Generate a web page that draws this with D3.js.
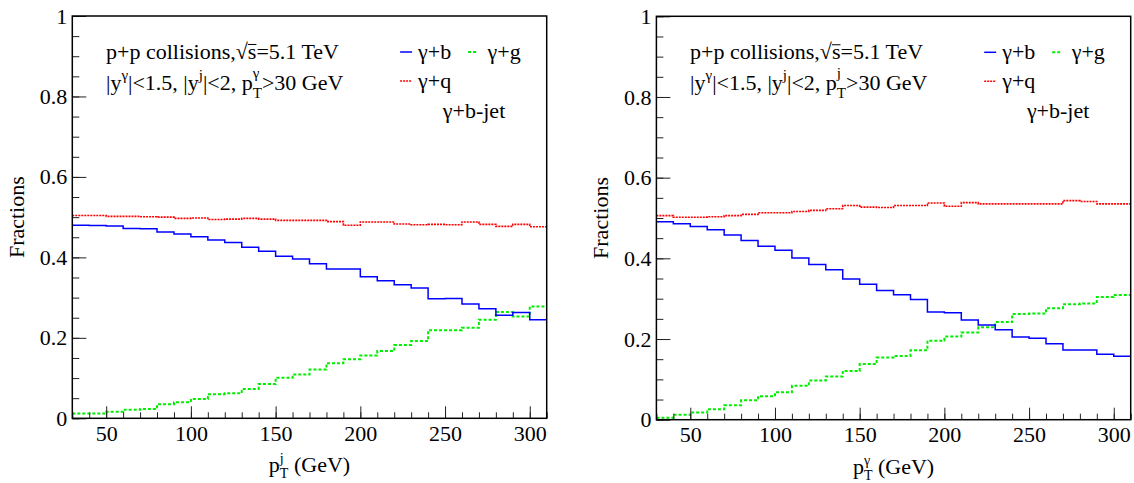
<!DOCTYPE html>
<html>
<head>
<meta charset="utf-8">
<script src="https://cdn.jsdelivr.net/npm/d3@7"></script>
<style>
  body { margin: 0; background: #fff; }
  text { font-family: "Liberation Serif", "Times New Roman", serif; fill: #000; }
</style>
</head>
<body>
<svg id="chart"></svg>
<script>
// bin edges (GeV), 10 GeV bins from 30 to 310
var binEdges = [30, 40, 50, 60, 70, 80, 90, 100, 110, 120, 130, 140, 150, 160, 170,
    180, 190, 200, 210, 220, 230, 240, 250, 260, 270, 280, 290, 300, 310]

// left panel: vs p_T of the jet
var jetB = [0.480, 0.479, 0.478, 0.472, 0.471, 0.463, 0.458, 0.451, 0.443, 0.437, 0.425, 0.415, 0.403, 0.396,
    0.384, 0.371, 0.371, 0.352, 0.342, 0.332, 0.324, 0.297, 0.298, 0.284, 0.272, 0.256, 0.263, 0.245]
var jetG = [0.012, 0.012, 0.016, 0.021, 0.023, 0.035, 0.040, 0.048, 0.060, 0.062, 0.073, 0.085, 0.101, 0.109,
    0.121, 0.137, 0.147, 0.156, 0.167, 0.182, 0.192, 0.219, 0.219, 0.225, 0.245, 0.264, 0.253, 0.278]
var jetQ = [0.504, 0.504, 0.502, 0.502, 0.501, 0.500, 0.497, 0.498, 0.494, 0.495, 0.497, 0.495, 0.492, 0.492,
    0.492, 0.489, 0.480, 0.488, 0.488, 0.483, 0.481, 0.482, 0.481, 0.488, 0.482, 0.477, 0.482, 0.476]

// right panel: vs p_T of the photon
var gamB = [0.491, 0.486, 0.479, 0.471, 0.458, 0.444, 0.430, 0.420, 0.401, 0.385, 0.372, 0.349, 0.336, 0.320,
    0.310, 0.298, 0.267, 0.265, 0.247, 0.235, 0.223, 0.205, 0.202, 0.188, 0.173, 0.173, 0.162, 0.157]
var gamG = [0.005, 0.012, 0.018, 0.026, 0.036, 0.048, 0.058, 0.068, 0.084, 0.097, 0.107, 0.121, 0.138, 0.154,
    0.158, 0.172, 0.196, 0.206, 0.216, 0.229, 0.242, 0.262, 0.263, 0.276, 0.286, 0.288, 0.304, 0.309]
var gamQ = [0.506, 0.502, 0.502, 0.503, 0.506, 0.509, 0.513, 0.513, 0.516, 0.519, 0.523, 0.531, 0.527, 0.526,
    0.531, 0.531, 0.537, 0.529, 0.538, 0.535, 0.535, 0.535, 0.535, 0.535, 0.543, 0.541, 0.535, 0.535]

var xMajor = [50, 100, 150, 200, 250, 300]
var yMajor = [0, 0.2, 0.4, 0.6, 0.8, 1]
var seriesNames = ['γ+b', 'γ+g', 'γ+q']

var width = 1134, height = 483, fs = 22

var svg = d3.select('#chart').attr('width', width).attr('height', height)
svg.append('rect').attr('width', width).attr('height', height).style('fill', '#fff')

// lays out text pieces one after another (sub/superscripts, stacked indices)
function richText(g, x, y, parts) {
    var cx = x, prevX = x
    parts.forEach(function (p) {
        var px = p.stack ? prevX : cx
        var size = p.s || fs
        var t = g.append('text').attr('x', px).attr('y', y + (p.dy || 0))
            .style('font-size', size + 'px').text(p.t)
        var w = t.node().getComputedTextLength()
        if (p.over) {
            g.append('line').attr('x1', px).attr('x2', px + w)
                .attr('y1', y - size * 0.66).attr('y2', y - size * 0.66)
                .style('stroke', '#000').style('stroke-width', 1)
        }
        cx = p.stack ? Math.max(cx, px + w) : px + w
        prevX = px
    })
    return cx - x
}

function drawPanel(cfg) {
    var x = d3.scaleLinear().domain([30, 310]).range([cfg.x0, cfg.x1])
    var y = d3.scaleLinear().domain([0, 1]).range([cfg.y1, cfg.y0])

    // histograms
    var line = d3.line()
        .x(function (d) { return x(d[0]) })
        .y(function (d) { return y(d[1]) })
        .curve(d3.curveStepAfter)
    function steps(vals) {
        var pts = vals.map(function (v, i) { return [binEdges[i], v] })
        pts.push([binEdges[binEdges.length - 1], vals[vals.length - 1]])
        return pts
    }
    var styles = [
        { data: cfg.q, color: '#ff0000', w: 1.6, dash: '2,1' },
        { data: cfg.g, color: '#00ee00', w: 2, dash: '3,2' },
        { data: cfg.b, color: '#0000ff', w: 1.5, dash: null }
    ]
    styles.forEach(function (s) {
        svg.append('path').attr('d', line(steps(s.data)))
            .style('fill', 'none').style('stroke', s.color)
            .style('stroke-width', s.w).style('stroke-dasharray', s.dash)
    })

    // axes: ticks drawn inward, ROOT style
    var yMinor = d3.range(0, 1.0001, 0.05)
    var xMinor = binEdges
    svg.append('g').attr('transform', `translate(${cfg.x0},0)`)
        .call(d3.axisLeft(y).tickValues(yMinor).tickSize(-7).tickFormat(''))
        .call(function (g) { g.select('.domain').remove() })
    var ya = svg.append('g').attr('transform', `translate(${cfg.x0},0)`)
        .call(d3.axisLeft(y).tickValues(yMajor).tickSize(-14).tickPadding(5)
            .tickFormat(d3.format('~g')))
    ya.select('.domain').remove()
    ya.selectAll('text').style('font-size', fs + 'px')

    svg.append('g').attr('transform', `translate(0,${cfg.y1})`)
        .call(d3.axisBottom(x).tickValues(xMinor).tickSize(-6).tickFormat(''))
        .call(function (g) { g.select('.domain').remove() })
    var xa = svg.append('g').attr('transform', `translate(0,${cfg.y1})`)
        .call(d3.axisBottom(x).tickValues(xMajor).tickSize(-12).tickPadding(5))
    xa.select('.domain').remove()
    xa.selectAll('text').style('font-size', fs + 'px').attr('dy', '0.8em')
    svg.selectAll('.tick line').style('stroke', '#222')

    // frame
    svg.append('rect').attr('x', cfg.x0).attr('y', cfg.y0)
        .attr('width', cfg.x1 - cfg.x0).attr('height', cfg.y1 - cfg.y0)
        .style('fill', 'none').style('stroke', '#000').style('stroke-width', 1.5)

    // y title
    svg.append('text')
        .attr('transform', `translate(${cfg.x0 - 48},${(cfg.y0 + cfg.y1) / 2}) rotate(-90)`)
        .attr('text-anchor', 'middle').style('font-size', fs + 'px').text('Fractions')

    // x title, centred under the axis
    var xt = svg.append('g')
    var w = richText(xt, 0, 0, [
        { t: 'p' }, { t: 'T', s: 14, dy: 6 }, { t: cfg.ptIdx, s: 14, dy: -9, stack: true },
        { t: '\u00a0(GeV)' }
    ])
    xt.attr('transform', `translate(${(cfg.x0 + cfg.x1) / 2 - w / 2},${cfg.y1 + 54})`)

    // labels
    var tx = cfg.x0 + 33.7
    richText(svg, tx, cfg.y0 + 43, [
        { t: 'p+p collisions,' }, { t: '√' }, { t: 's', over: true }, { t: '=5.1 TeV' }
    ])
    richText(svg, tx, cfg.y0 + 74, [
        { t: '|y' }, { t: 'γ', s: 15, dy: -10 }, { t: '|<1.5, |y' }, { t: 'j', s: 15, dy: -10 },
        { t: '|<2, p' }, { t: 'T', s: 15, dy: 8 }, { t: cfg.cutIdx, s: 15, dy: -12, stack: true },
        { t: '>30 GeV' }
    ])

    // legend
    var lx = cfg.x0 + 327.8
    var legend = [
        { name: seriesNames[0], x: lx, tx: 18, row: 0, color: '#0000ff', w: 1.5, dash: null, len: 12 },
        { name: seriesNames[1], x: lx + 68, tx: 19.5, row: 0, color: '#00ee00', w: 2, dash: '3,2', len: 10 },
        { name: seriesNames[2], x: lx, tx: 18, row: 1, color: '#ff0000', w: 1.6, dash: '2,1', len: 12 }
    ]
    legend.forEach(function (d) {
        var by = cfg.y0 + 43 + d.row * 29
        svg.append('line').attr('x1', d.x).attr('x2', d.x + d.len)
            .attr('y1', by - 7).attr('y2', by - 7)
            .style('stroke', d.color).style('stroke-width', d.w).style('stroke-dasharray', d.dash)
        svg.append('text').attr('x', d.x + d.tx).attr('y', by)
            .style('font-size', fs + 'px').text(d.name)
    })
    svg.append('text').attr('x', cfg.x0 + 370.5).attr('y', cfg.y0 + 102)
        .style('font-size', fs + 'px').text('γ+b-jet')
}

drawPanel({ x0: 72.3, x1: 546.7, y0: 16, y1: 418.3, b: jetB, g: jetG, q: jetQ, ptIdx: 'j', cutIdx: 'γ' })
drawPanel({ x0: 656.4, x1: 1130.7, y0: 16.3, y1: 419.7, b: gamB, g: gamG, q: gamQ, ptIdx: 'γ', cutIdx: 'j' })
</script>
</body>
</html>
